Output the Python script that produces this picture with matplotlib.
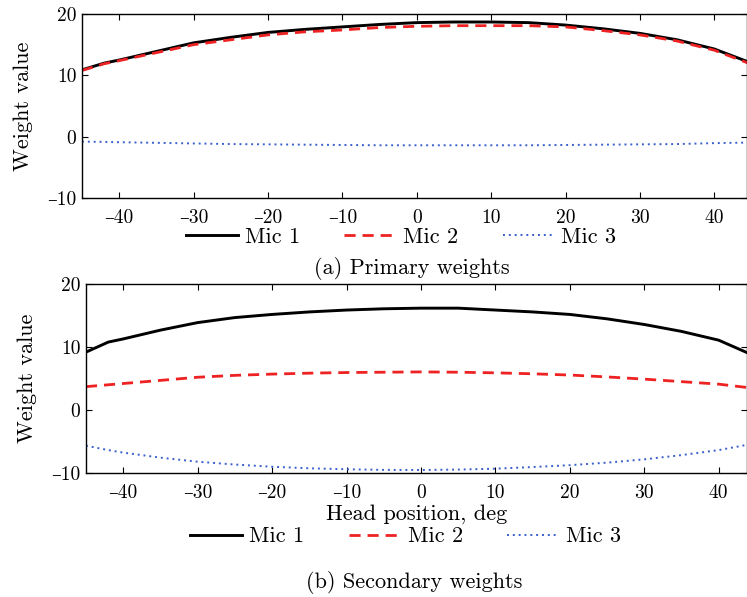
import matplotlib
matplotlib.use("Agg")
import matplotlib.pyplot as plt

plt.rcParams['font.family'] = ['cmr10', 'DejaVu Serif']
plt.rcParams['mathtext.fontset'] = 'cm'
plt.rcParams['axes.unicode_minus'] = False

# head position, deg
angles = [-45, -42, -40, -35, -30, -25, -20, -15, -10, -5, 0, 5, 10, 15, 20, 25, 30, 35, 40, 45]

# (a) primary weights
prim_mic1 = [10.9, 12.0, 12.5, 13.9, 15.3, 16.2, 17.0, 17.5, 17.9, 18.3, 18.6, 18.7, 18.7, 18.6, 18.2, 17.6, 16.85, 15.8, 14.3, 12.0]
prim_mic2 = [10.8, 11.9, 12.4, 13.7, 15.0, 15.8, 16.6, 17.1, 17.4, 17.8, 18.0, 18.1, 18.1, 18.1, 17.9, 17.3, 16.6, 15.6, 14.1, 11.8]
prim_mic3 = [-0.8, -0.85, -0.9, -1.0, -1.1, -1.2, -1.25, -1.3, -1.35, -1.4, -1.4, -1.4, -1.4, -1.4, -1.35, -1.3, -1.25, -1.2, -1.05, -0.95]

# (b) secondary weights
sec_mic1 = [9.2, 10.8, 11.3, 12.7, 13.9, 14.7, 15.2, 15.6, 15.9, 16.1, 16.2, 16.2, 15.9, 15.6, 15.2, 14.5, 13.6, 12.5, 11.1, 8.5]
sec_mic2 = [3.7, 4.0, 4.2, 4.7, 5.2, 5.5, 5.7, 5.85, 5.95, 6.0, 6.05, 6.0, 5.9, 5.75, 5.55, 5.25, 4.9, 4.5, 4.1, 3.4]
sec_mic3 = [-5.7, -6.4, -6.8, -7.6, -8.25, -8.7, -9.05, -9.3, -9.45, -9.55, -9.57, -9.5, -9.36, -9.1, -8.8, -8.4, -7.87, -7.2, -6.4, -5.3]

labels = ['Mic 1', 'Mic 2', 'Mic 3']
xticks = [-40, -30, -20, -10, 0, 10, 20, 30, 40]
xticklabels = ['\u201340', '\u201330', '\u201320', '\u201310', '0', '10', '20', '30', '40']
yticks = [-10, 0, 10, 20]
yticklabels = ['\u201310', '0', '10', '20']

fig = plt.figure(figsize=(7.47, 5.97), dpi=100)
ax1 = fig.add_axes([0.1098, 0.6683, 0.8902, 0.3082])
ax2 = fig.add_axes([0.1151, 0.2082, 0.8849, 0.3156])


def draw(ax, m1, m2, m3, xmax, ylabelpad):
    ax.plot(angles, m1, color='black', lw=2.1, label=labels[0])
    ax.plot(angles, m2, color='#ee2222', lw=2.0, ls=(0, (4, 2.5)), label=labels[1])
    ax.plot(angles, m3, color='#3a5fcd', lw=1.4, ls=(0, (1, 2)), label=labels[2])
    ax.set_xlim(-45, xmax)
    ax.set_ylim(-10, 20)
    ax.set_xticks(xticks, xticklabels)
    ax.set_yticks(yticks, yticklabels)
    ax.tick_params(direction='in', top=True, right=True, length=4.5, width=0.8, labelsize=14)
    ax.tick_params(axis='x', pad=8)
    ax.tick_params(axis='y', pad=4)
    for s in ax.spines.values():
        s.set_linewidth(1.0)
    ax.set_ylabel('Weight value', fontsize=16, labelpad=ylabelpad)


draw(ax1, prim_mic1, prim_mic2, prim_mic3, 44.4, 10)
draw(ax2, sec_mic1, sec_mic2, sec_mic3, 43.8, 10)
ax2.set_xlabel('Head position, deg', fontsize=16, labelpad=2)

leg_kw = dict(loc='center', ncol=3, frameon=False, fontsize=16, handlelength=2.35,
              handletextpad=0.3, columnspacing=2.0, bbox_transform=fig.transFigure)
ax1.legend(bbox_to_anchor=(0.537, 0.603), **leg_kw)
ax2.legend(bbox_to_anchor=(0.543, 0.101), **leg_kw)

fig.text(0.551, 0.551, '(a) Primary weights', ha='center', va='center', fontsize=16)
fig.text(0.555, 0.025, '(b) Secondary weights', ha='center', va='center', fontsize=16)

fig.savefig('out.png', dpi=100)
